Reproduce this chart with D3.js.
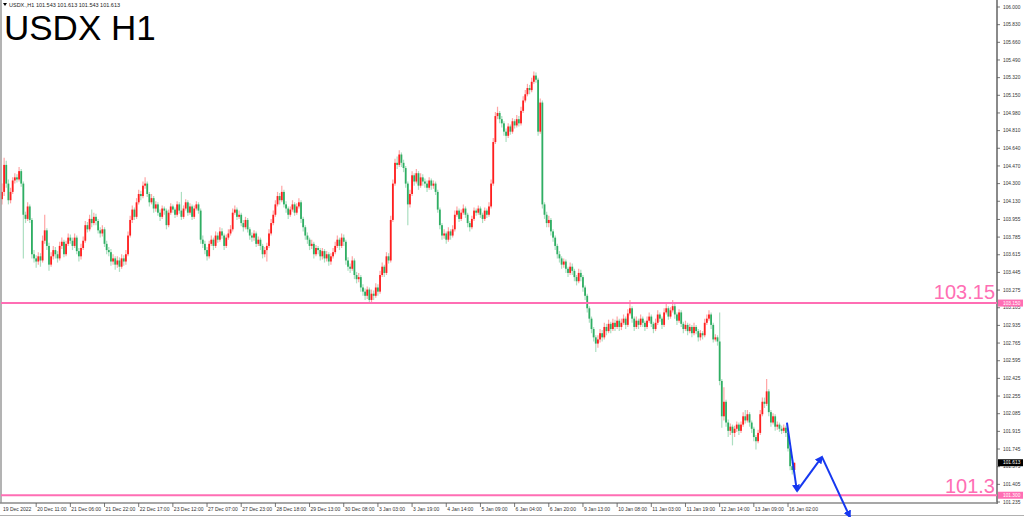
<!DOCTYPE html>
<html><head><meta charset="utf-8">
<script src="https://cdn.jsdelivr.net/npm/d3@7"></script>
<style>html,body{margin:0;padding:0;background:#fff;}svg{display:block;font-family:"Liberation Sans",Arial,sans-serif;}</style>
</head><body><svg id="c" width="1024" height="517"></svg>
<script>
const firstOpen = 104.15;
const closes = [104.22,104.48,104.30,104.14,104.22,104.33,104.36,104.34,104.42,104.30,
104.00,103.96,104.08,103.95,103.62,103.58,103.55,103.60,103.56,103.75,
103.85,103.70,103.52,103.60,103.66,103.62,103.58,103.70,103.74,103.62,
103.72,103.78,103.75,103.70,103.78,103.65,103.60,103.68,103.75,103.90,
103.86,103.96,103.92,103.98,103.94,103.85,103.82,103.86,103.72,103.66,
103.64,103.55,103.58,103.52,103.56,103.50,103.58,103.55,103.62,103.80,
103.95,104.05,103.98,104.12,104.20,104.18,104.28,104.30,104.20,104.12,
104.16,104.06,104.10,104.02,103.98,104.06,104.04,103.90,104.02,104.08,
104.05,104.00,104.10,104.04,103.98,104.06,104.12,104.02,104.08,103.98,
104.06,104.10,104.04,103.76,103.72,103.66,103.60,103.72,103.76,103.70,
103.80,103.76,103.84,103.80,103.70,103.78,103.82,103.86,104.02,104.05,
103.98,104.00,103.92,103.88,103.95,103.86,103.80,103.78,103.82,103.72,
103.76,103.70,103.62,103.66,103.70,103.82,103.92,104.00,104.10,104.18,
104.14,104.22,104.10,104.06,104.00,104.05,104.10,104.02,104.08,104.12,
103.96,103.88,103.80,103.76,103.70,103.72,103.62,103.68,103.66,103.60,
103.65,103.58,103.62,103.55,103.60,103.64,103.70,103.76,103.70,103.78,
103.74,103.56,103.50,103.48,103.56,103.42,103.38,103.40,103.30,103.26,
103.22,103.28,103.18,103.24,103.22,103.30,103.26,103.42,103.50,103.44,
103.60,103.56,103.95,104.30,104.50,104.48,104.58,104.50,104.45,104.30,
104.10,104.20,104.38,104.32,104.40,104.28,104.36,104.32,104.30,104.26,
104.33,104.28,104.30,104.22,104.05,103.90,103.80,103.82,103.76,103.84,
103.80,103.86,104.00,104.04,103.96,104.02,104.06,104.00,103.92,103.88,
103.96,104.04,104.02,104.06,104.00,103.96,104.04,104.00,104.08,104.30,
104.70,104.95,104.98,104.92,104.88,104.80,104.76,104.85,104.80,104.90,
104.86,104.92,104.88,105.00,105.10,105.16,105.22,105.20,105.28,105.34,
105.30,104.80,105.08,104.10,104.00,103.92,103.95,103.84,103.78,103.70,
103.62,103.58,103.52,103.55,103.48,103.44,103.50,103.46,103.40,103.36,
103.44,103.40,103.30,103.22,103.10,103.00,102.90,102.82,102.76,102.80,
102.86,102.82,102.92,102.88,102.95,102.90,102.96,102.92,102.98,102.92,
102.96,103.00,102.94,103.05,103.10,103.00,102.92,102.98,102.94,103.00,
102.96,102.92,102.98,103.02,102.95,102.90,102.96,103.04,103.00,102.94,
103.06,103.10,103.02,103.08,103.12,103.04,102.98,103.06,102.95,102.90,
102.94,102.88,102.92,102.86,102.92,102.88,102.82,102.86,102.84,102.96,
103.00,103.04,102.94,102.80,102.82,102.78,102.40,102.06,102.20,102.00,
101.92,101.96,101.90,101.94,101.98,101.92,101.98,102.06,102.02,102.08,
102.00,101.94,101.86,101.82,101.90,102.08,102.20,102.18,102.30,102.10,
102.00,102.06,101.96,101.98,101.94,101.92,101.95,101.90,101.75,101.58,
101.543,101.613];
const highs = [104.30,104.55,104.52,104.34,104.26,104.36,104.40,104.39,104.46,104.44,
104.32,104.03,104.12,104.10,103.97,103.66,103.61,103.64,103.63,103.80,
104.00,103.87,103.73,103.64,103.70,103.69,103.65,103.74,103.78,103.76,
103.75,103.82,103.81,103.78,103.82,103.80,103.68,103.72,103.79,103.94,
103.93,104.00,104.05,104.02,104.01,103.96,103.88,103.90,103.88,103.75,
103.69,103.67,103.62,103.60,103.60,103.59,103.62,103.61,103.66,103.84,
103.99,104.09,104.07,104.16,104.24,104.23,104.32,104.36,104.32,104.22,
104.20,104.18,104.13,104.12,104.05,104.09,104.08,104.06,104.05,104.11,
104.10,104.07,104.13,104.12,104.22,104.09,104.15,104.14,104.11,104.10,
104.09,104.13,104.12,104.06,103.80,103.75,103.69,103.75,103.80,103.78,
103.84,103.83,103.88,103.87,103.82,103.81,103.86,103.90,104.06,104.09,
104.07,104.04,104.02,103.95,103.98,103.97,103.88,103.83,103.85,103.84,
103.79,103.78,103.72,103.69,103.73,103.86,103.96,104.04,104.14,104.22,
104.21,104.28,104.24,104.13,104.08,104.08,104.14,104.12,104.11,104.16,
104.14,103.98,103.90,103.83,103.78,103.76,103.74,103.71,103.70,103.68,
103.68,103.67,103.65,103.64,103.63,103.68,103.74,103.80,103.78,103.82,
103.81,103.76,103.59,103.53,103.60,103.58,103.45,103.44,103.42,103.33,
103.29,103.31,103.30,103.28,103.27,103.34,103.33,103.46,103.54,103.52,
103.64,103.63,103.99,104.34,104.54,104.56,104.62,104.60,104.53,104.47,
104.32,104.24,104.42,104.40,104.44,104.42,104.40,104.39,104.35,104.33,
104.36,104.35,104.33,104.32,104.24,104.07,103.92,103.86,103.84,103.88,
103.86,103.90,104.04,104.08,104.06,104.05,104.10,104.08,104.02,103.94,
103.99,104.07,104.06,104.09,104.08,104.02,104.07,104.06,104.12,104.34,
104.74,104.99,105.04,105.00,104.95,104.90,104.83,104.88,104.87,104.93,
104.92,104.96,104.95,105.04,105.14,105.20,105.26,105.25,105.32,105.38,
105.37,105.32,105.12,105.10,104.12,104.03,103.99,103.97,103.86,103.80,
103.72,103.65,103.60,103.58,103.57,103.50,103.54,103.53,103.48,103.42,
103.48,103.47,103.42,103.32,103.24,103.12,103.02,102.92,102.84,102.84,
102.90,102.89,102.96,102.95,102.99,102.97,103.00,102.99,103.02,103.00,
103.00,103.04,103.02,103.09,103.18,103.12,103.02,103.02,103.00,103.04,
103.02,102.98,103.02,103.06,103.04,102.97,103.00,103.08,103.06,103.02,
103.10,103.14,103.12,103.11,103.18,103.14,103.06,103.09,103.08,102.97,
102.98,102.96,102.95,102.94,102.96,102.94,102.90,102.89,102.88,103.00,
103.04,103.08,103.06,102.96,102.85,102.84,103.06,102.42,102.34,102.22,
102.03,101.99,101.98,101.97,102.01,102.00,102.01,102.10,102.12,102.12,
102.10,102.02,101.96,101.88,101.93,102.12,102.24,102.24,102.42,102.32,
102.12,102.09,102.08,102.01,102.00,101.97,101.98,101.97,101.92,101.77,
101.62,101.613];
const lows = [104.10,104.18,104.26,104.10,104.11,104.20,104.30,104.31,104.32,104.27,
103.58,103.92,103.94,103.92,103.58,103.54,103.49,103.52,103.50,103.54,
103.72,103.66,103.46,103.50,103.57,103.58,103.54,103.56,103.67,103.59,
103.60,103.70,103.72,103.66,103.68,103.62,103.55,103.57,103.66,103.73,
103.83,103.84,103.88,103.90,103.90,103.82,103.78,103.79,103.69,103.62,
103.60,103.51,103.52,103.47,103.49,103.45,103.48,103.51,103.52,103.60,
103.78,103.92,103.95,103.96,104.10,104.14,104.16,104.25,104.17,104.08,
104.10,104.02,104.03,103.99,103.94,103.96,104.00,103.86,103.88,104.00,
104.02,103.97,103.98,104.01,103.95,103.96,104.04,103.99,104.00,103.95,
103.96,104.04,104.01,103.72,103.68,103.62,103.56,103.58,103.70,103.66,
103.68,103.73,103.74,103.77,103.66,103.68,103.76,103.80,103.84,104.00,
103.95,103.96,103.89,103.84,103.86,103.83,103.76,103.74,103.75,103.69,
103.70,103.66,103.58,103.59,103.55,103.68,103.80,103.90,103.98,104.08,
104.10,104.12,104.07,104.02,103.96,103.98,104.03,103.99,104.00,104.06,
103.92,103.84,103.76,103.72,103.66,103.67,103.58,103.60,103.62,103.56,
103.57,103.54,103.55,103.51,103.52,103.58,103.62,103.68,103.66,103.68,
103.70,103.52,103.46,103.44,103.46,103.38,103.34,103.35,103.26,103.22,
103.18,103.19,103.14,103.16,103.18,103.20,103.22,103.24,103.40,103.40,
103.42,103.53,103.54,103.93,104.28,104.44,104.46,104.46,104.41,104.26,
103.90,104.07,104.18,104.28,104.30,104.24,104.26,104.28,104.26,104.22,
104.24,104.24,104.25,104.19,104.02,103.86,103.76,103.77,103.72,103.74,
103.76,103.78,103.84,103.98,103.93,103.94,104.00,103.97,103.88,103.84,
103.86,103.94,103.99,104.00,103.97,103.92,103.94,103.97,103.98,104.06,
104.28,104.68,104.92,104.88,104.84,104.76,104.70,104.74,104.77,104.78,
104.83,104.84,104.85,104.86,104.98,105.08,105.14,105.16,105.18,105.26,
105.27,104.76,104.78,104.06,103.96,103.88,103.88,103.80,103.74,103.66,
103.58,103.54,103.48,103.49,103.44,103.40,103.42,103.42,103.36,103.32,
103.34,103.36,103.26,103.18,103.06,102.96,102.86,102.78,102.68,102.72,
102.77,102.78,102.80,102.84,102.86,102.86,102.88,102.88,102.90,102.88,
102.89,102.94,102.90,102.92,103.03,102.96,102.88,102.90,102.90,102.92,
102.92,102.88,102.90,102.96,102.92,102.86,102.88,102.94,102.97,102.90,
102.92,103.04,102.99,103.00,103.06,103.00,102.94,102.96,102.92,102.86,
102.88,102.84,102.86,102.82,102.84,102.85,102.78,102.79,102.80,102.82,
102.94,102.98,102.90,102.77,102.78,102.74,102.36,101.95,102.02,101.96,
101.86,101.88,101.78,101.86,101.91,101.88,101.90,101.96,101.99,102.00,
101.96,101.90,101.82,101.74,101.80,101.88,102.06,102.14,102.16,102.06,
101.96,101.98,101.92,101.93,101.91,101.89,101.90,101.86,101.72,101.54,
101.50,101.543];

const priceTicks = ["106.000","105.830","105.660","105.490","105.320","105.150","104.980","104.810","104.640","104.470","104.300","104.130","103.955","103.785","103.615","103.445","103.275","103.105","102.935","102.765","102.595","102.425","102.255","102.085","101.915","101.745","101.575","101.405","101.235"];
const timeLabels = ["19 Dec 2022","20 Dec 11:00","21 Dec 06:00","21 Dec 22:00","22 Dec 17:00","23 Dec 12:00","27 Dec 07:00","27 Dec 23:00","28 Dec 18:00","29 Dec 13:00","30 Dec 08:00","3 Jan 03:00","3 Jan 19:00","4 Jan 14:00","5 Jan 09:00","6 Jan 04:00","6 Jan 20:00","9 Jan 13:00","10 Jan 08:00","11 Jan 03:00","11 Jan 19:00","12 Jan 14:00","13 Jan 09:00","16 Jan 02:00"];
const barsPerLabel = 16;
const levels = [103.15, 101.3];
const levelText = ["103.15", "101.3"];
const levelAxisText = ["103.150", "101.300"];
const lastPrice = 101.613;
const arrowIdx = [367.5, 372.2, 383.9, 397.0];
const arrowPrice = [102.00, 101.34, 101.67, 101.09];
const headerText = "USDX.,H1  101.543 101.613 101.543 101.613";
const titleText = "USDX H1";

const svg = d3.select("#c");
const W = 1024, H = 517;
const plotL = 1, plotR = 997, plotT = 1, plotB = 503;
const x = d3.scaleLinear().domain([0, 368]).range([2, 788]);
const y = d3.scaleLinear().domain([101.235, 106.0]).range([502, 7]);

svg.append("rect").attr("width", W).attr("height", H).attr("fill", "#fff");

const bars = closes.map((c, i) => ({i, o: i === 0 ? firstOpen : closes[i - 1], c, h: highs[i], l: lows[i]}));
const UP = "#ff1f1f", DN = "#2fae63";
const g = svg.append("g");
g.selectAll("line.w").data(bars).join("line")
  .attr("x1", d => x(d.i)).attr("x2", d => x(d.i))
  .attr("y1", d => y(d.h)).attr("y2", d => y(d.l))
  .attr("stroke", d => d.c >= d.o ? UP : DN).attr("stroke-opacity", 0.4).attr("stroke-width", 1.2);
g.selectAll("rect.b").data(bars).join("rect")
  .attr("x", d => x(d.i) - 0.9).attr("width", 1.8)
  .attr("y", d => y(Math.max(d.o, d.c)))
  .attr("height", d => Math.max(1, Math.abs(y(d.o) - y(d.c))))
  .attr("fill", d => d.c >= d.o ? UP : DN);

// frame
svg.append("line").attr("x1", plotL).attr("x2", plotL).attr("y1", 0).attr("y2", plotB).attr("stroke", "#9a9a9a").attr("stroke-width", 1.5);
svg.append("line").attr("x1", plotR).attr("x2", plotR).attr("y1", 0).attr("y2", plotB + 1).attr("stroke", "#8a8a8a").attr("stroke-width", 2);
svg.append("line").attr("x1", 0).attr("x2", plotR).attr("y1", plotB).attr("y2", plotB).attr("stroke", "#8a8a8a").attr("stroke-width", 1.5);
svg.append("line").attr("x1", 0).attr("x2", W).attr("y1", 515.5).attr("y2", 515.5).attr("stroke", "#b0b0b0").attr("stroke-width", 1);

// level lines
const PINK = "#ff6eb4";
levels.forEach((v, k) => {
  svg.append("line").attr("x1", plotL).attr("x2", plotR).attr("y1", y(v)).attr("y2", y(v))
    .attr("stroke", PINK).attr("stroke-width", 2);
  svg.append("text").attr("x", 995).attr("y", y(v) - (k === 0 ? 4 : 2)).attr("text-anchor", "end")
    .attr("font-size", 20).attr("fill", PINK).text(levelText[k]);
});

// price axis
const yt = svg.append("g");
priceTicks.forEach(t => {
  const v = +t, yy = y(v);
  yt.append("line").attr("x1", plotR).attr("x2", plotR + 3).attr("y1", yy).attr("y2", yy).attr("stroke", "#555").attr("stroke-width", 0.8);
  yt.append("text").attr("x", 1003).attr("y", yy + 1.7).attr("font-size", 4.8).attr("fill", "#333").text(t);
});
levels.forEach((v, k) => {
  yt.append("rect").attr("x", 998).attr("y", y(v) - 3.5).attr("width", 25).attr("height", 7).attr("fill", PINK);
  yt.append("text").attr("x", 1003).attr("y", y(v) + 1.7).attr("font-size", 4.8).attr("fill", "#fff").text(levelAxisText[k]);
});
yt.append("rect").attr("x", 998).attr("y", y(lastPrice) - 3.5).attr("width", 25).attr("height", 7).attr("fill", "#000");
yt.append("text").attr("x", 1003).attr("y", y(lastPrice) + 1.7).attr("font-size", 4.8).attr("fill", "#fff").text(lastPrice.toFixed(3));

// time axis
const xt = svg.append("g");
timeLabels.forEach((t, k) => {
  const xx = x(k * barsPerLabel);
  if (k > 0) xt.append("line").attr("x1", xx).attr("x2", xx).attr("y1", plotB).attr("y2", plotB + 4).attr("stroke", "#555").attr("stroke-width", 0.8);
  xt.append("text").attr("x", xx + 1).attr("y", 511).attr("font-size", 5).attr("fill", "#333").text(t);
});

// blue arrows
const BLUE = "#1638f0";
const defs = svg.append("defs");
defs.append("marker").attr("id", "ah").attr("viewBox", "0 0 10 10").attr("refX", 8).attr("refY", 5)
  .attr("markerWidth", 4).attr("markerHeight", 4).attr("orient", "auto")
  .append("path").attr("d", "M0,0 L10,5 L0,10 z").attr("fill", BLUE);
for (let k = 0; k < arrowIdx.length - 1; k++) {
  svg.append("line").attr("x1", x(arrowIdx[k])).attr("y1", y(arrowPrice[k]))
    .attr("x2", x(arrowIdx[k + 1])).attr("y2", y(arrowPrice[k + 1]))
    .attr("stroke", BLUE).attr("stroke-width", 2).attr("marker-end", "url(#ah)");
}

// header and title
svg.append("path").attr("d", "M3,3 L7,3 L5,6 z").attr("fill", "#000");
svg.append("text").attr("x", 9).attr("y", 7).attr("font-size", 5.5).attr("fill", "#222").text(headerText);
svg.append("text").attr("x", 4).attr("y", 40).attr("font-size", 35).attr("fill", "#000").text(titleText);
</script></body></html>
